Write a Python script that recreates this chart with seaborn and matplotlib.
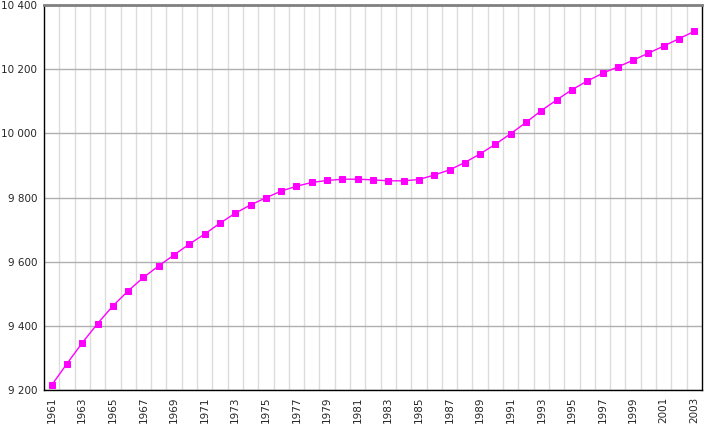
import numpy as np
import pandas as pd
import matplotlib
matplotlib.use("Agg")
import matplotlib.pyplot as plt
import seaborn as sns
from matplotlib.ticker import FixedLocator, FuncFormatter

# --- DANE ---
years = list(range(1961, 2004))
population = [
    9215, 9282, 9347, 9407, 9462, 9509, 9551, 9587, 9621, 9655,
    9686, 9720, 9751, 9777, 9799, 9820, 9835, 9847, 9853, 9857,
    9857, 9855, 9852, 9852, 9856, 9870, 9886, 9909, 9936, 9966,
    9999, 10034, 10071, 10104, 10136, 10163, 10187, 10207, 10228, 10250,
    10272, 10295, 10318,
]
y_ticks = [9200, 9400, 9600, 9800, 10000, 10200, 10400]

df = pd.DataFrame({"year": years, "value": population})

sns.set_style("white")
plt.rcParams['font.family'] = ['DejaVu Sans']

fig = plt.figure(figsize=(7.25, 4.26), dpi=100)
ax = fig.add_axes([44 / 725, 1 - 390 / 426, (702 - 44) / 725, (390 - 5) / 426])

sns.lineplot(data=df, x="year", y="value", ax=ax, color="#ff00ff", linewidth=1,
             marker="s", markersize=4.5, markeredgecolor="#ff00ff", markerfacecolor="#ff00ff")

ax.set_xlim(years[0] - 0.5, years[-1] + 0.5)
ax.set_ylim(y_ticks[0], y_ticks[-1])

# os X: etykiety co drugi rok, siatka na granicach lat
ax.xaxis.set_major_locator(FixedLocator(years[::2]))
ax.xaxis.set_minor_locator(FixedLocator([y + 0.5 for y in years[:-1]]))
ax.tick_params(axis="x", which="major", length=0, labelrotation=90, labelsize=7.5, pad=5)
ax.tick_params(axis="x", which="minor", length=4, color="#555555")
ax.grid(True, axis="x", which="minor", color="#dcdcdc", linewidth=1)

# os Y
ax.set_yticks(y_ticks)
ax.yaxis.set_major_formatter(FuncFormatter(lambda v, p: f"{int(v):,}".replace(",", " ")))
ax.tick_params(axis="y", which="major", length=3, labelsize=7.5, color="#555555", pad=2)
ax.grid(True, axis="y", which="major", color="#b0b0b0", linewidth=1)

ax.set_axisbelow(True)
ax.set_xlabel("")
ax.set_ylabel("")

for side in ["left", "bottom", "right"]:
    ax.spines[side].set_color("#000000")
    ax.spines[side].set_linewidth(1)
ax.spines["top"].set_color("#808080")
ax.spines["top"].set_linewidth(2)

fig.savefig("out.png", dpi=100)
